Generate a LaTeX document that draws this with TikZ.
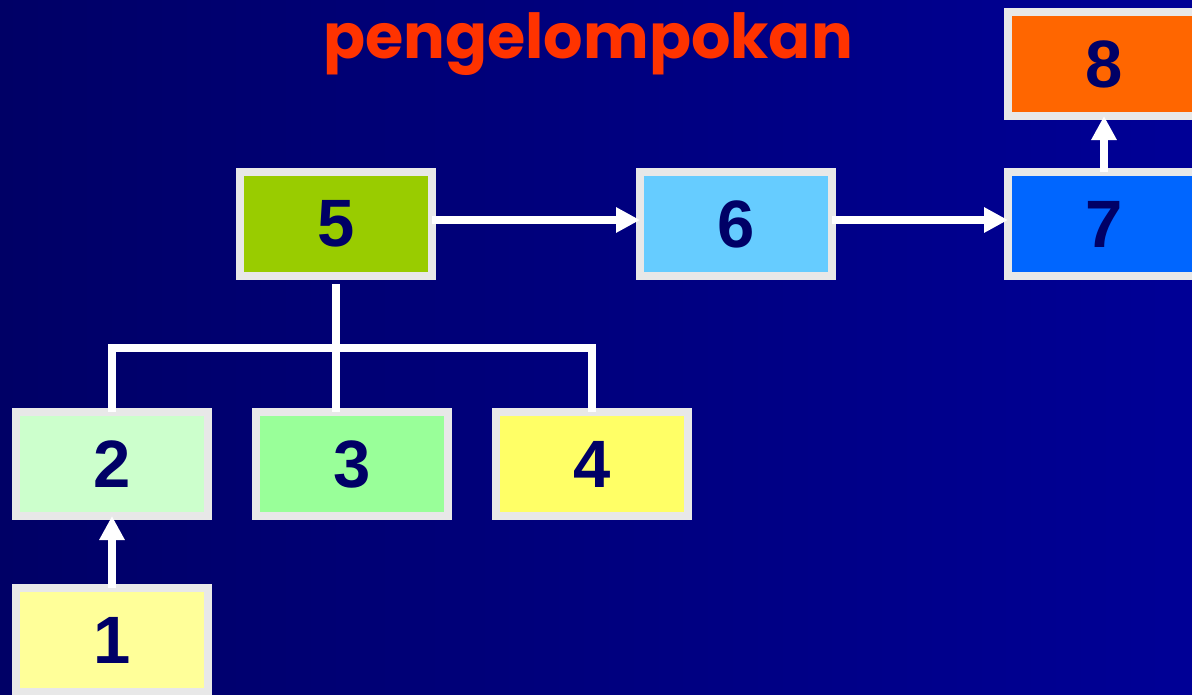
\documentclass[tikz,border=0pt]{standalone}
\usepackage{fontspec}
\setmainfont{Liberation Sans}
\newfontfamily\titlefont{Poppins}
\usetikzlibrary{arrows.meta}

\definecolor{navyleft}{RGB}{0,0,102}
\definecolor{navyright}{RGB}{0,0,150}
\definecolor{digitblue}{RGB}{0,0,102}
\definecolor{framegray}{RGB}{232,232,232}
\definecolor{titlered}{RGB}{255,51,0}

\begin{document}
\begin{tikzpicture}[
    % one unit is one pixel of the slide, y runs downwards
    x=1pt,
    y=-1pt
]
    % --- Style Definitions ---
    \tikzstyle{stage} = [rectangle, draw=framegray, line width=8pt, outer sep=0pt,
                         minimum width=192pt, minimum height=104pt,
                         text=digitblue, font=\fontsize{67}{67}\selectfont\bfseries]
    \tikzstyle{link} = [draw, white, line width=8pt]
    \tikzstyle{flow} = [link, -{Triangle[length=24pt,width=24pt]}]

    % --- Slide Background ---
    \useasboundingbox (0,0) rectangle (1192,694);
    \clip (0,0) rectangle (1192,694);
    \shade[left color=navyleft, right color=navyright] (0,0) rectangle (1192,694);

    \node[anchor=base, text=titlered, font=\titlefont\fontsize{62}{62}\selectfont\bfseries]
        (title) at (588,58) {pengelompokan};

    % --- Stages ---
    \node[stage, fill={rgb,255:red,255;green,255;blue,153}] (s1) at (112,640) {1};
    \node[stage, fill={rgb,255:red,204;green,255;blue,204}] (s2) at (112,464) {2};
    \node[stage, fill={rgb,255:red,153;green,255;blue,153}] (s3) at (352,464) {3};
    \node[stage, fill={rgb,255:red,255;green,255;blue,102}] (s4) at (592,464) {4};
    \node[stage, fill={rgb,255:red,153;green,204;blue,0}]   (s5) at (336,224) {5};
    \node[stage, fill={rgb,255:red,102;green,204;blue,255}] (s6) at (736,224) {6};
    \node[stage, fill={rgb,255:red,0;green,102;blue,255}]   (s7) at (1104,224) {7};
    \node[stage, fill={rgb,255:red,255;green,102;blue,0}]   (s8) at (1104,64) {8};

    % --- Grouping Bracket ---
    % 2, 3 and 4 hang from one bar below 5
    \coordinate (bar) at (336,348);
    \draw[link, shorten <=8pt] (s5.south) -- (s5.south |- s3.north);
    \draw[link] (s2.north) -- (s2.north |- bar) -- (s4.north |- bar) -- (s4.north);

    % --- Arrows ---
    \draw[flow] (s1.north) -- (s2.south);
    \draw[flow] ([yshift=4pt]s5.east) -- ([yshift=4pt]s6.west);
    \draw[flow] ([yshift=4pt]s6.east) -- ([yshift=4pt]s7.west);
    \draw[flow] (s7.north) -- (s8.south);
\end{tikzpicture}
\end{document}
